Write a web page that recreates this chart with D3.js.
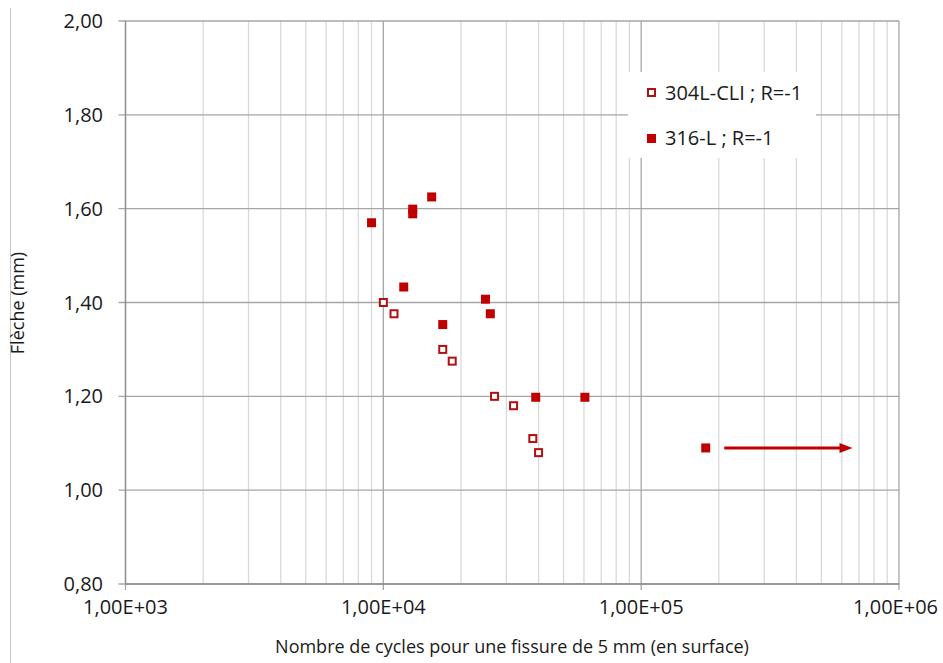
<!DOCTYPE html>
<html><head><meta charset="utf-8">
<script src="https://cdn.jsdelivr.net/npm/d3@7"></script>
<style>body{margin:0;background:#fff;}svg{display:block;font-family:"Open Sans",sans-serif;}</style>
</head><body>
<svg id="c" width="943" height="663"></svg>
<script>
const series304Cycles = [10000, 11000, 17000, 18500, 27000, 32000, 38000, 40000];
const series304Fleche = [1.40, 1.376, 1.30, 1.275, 1.20, 1.18, 1.11, 1.08];
const series316Cycles = [9000, 13000, 13000, 15400, 12000, 17000, 24900, 26000, 39000, 60500, 178000];
const series316Fleche = [1.57, 1.599, 1.589, 1.625, 1.433, 1.353, 1.407, 1.376, 1.198, 1.198, 1.09];
const arrowCycles = [210000, 660000];
const arrowFleche = [1.09, 1.09];
const yTicks = [0.80, 1.00, 1.20, 1.40, 1.60, 1.80, 2.00];
const xTicks = [1e3, 1e4, 1e5, 1e6];
const xTickLabels = ["1,00E+03", "1,00E+04", "1,00E+05", "1,00E+06"];
const legendLabels = ["304L-CLI ; R=-1", "316-L ; R=-1"];
const xTitle = "Nombre de cycles pour une fissure de 5 mm (en surface)";
const yTitle = "Flèche (mm)";

const red = "#c00000";
const txt = "#1a1a1a";
const svg = d3.select("#c");
const W = 943;
const L = 125.5, R = 899, T = 21, B = 584;
const x = d3.scaleLog().domain([1e3, 1e6]).range([L, R]);
const y = d3.scaleLinear().domain([0.8, 2.0]).range([B, T]);

// outer chart border (left edge visible)
svg.append("line").attr("x1", 10.5).attr("x2", 10.5).attr("y1", 8).attr("y2", 663)
  .attr("stroke", "#c8c8c8").attr("stroke-width", 1);

// minor vertical gridlines
const minor = [];
for (let d = 1e3; d < 1e6; d *= 10) for (let k = 2; k <= 9; k++) minor.push(d * k);
svg.append("g").selectAll("line").data(minor).join("line")
  .attr("x1", d => x(d)).attr("x2", d => x(d)).attr("y1", T).attr("y2", B)
  .attr("stroke", "#d9d9d9").attr("stroke-width", 1.3);
// major vertical gridlines
svg.append("g").selectAll("line").data(xTicks).join("line")
  .attr("x1", d => x(d)).attr("x2", d => x(d)).attr("y1", T).attr("y2", B + 6)
  .attr("stroke", "#a6a6a6").attr("stroke-width", 1.3);
// horizontal gridlines
svg.append("g").selectAll("line").data(yTicks).join("line")
  .attr("x1", L - 7).attr("x2", R).attr("y1", d => y(d)).attr("y2", d => y(d))
  .attr("stroke", "#a6a6a6").attr("stroke-width", 1.3);

// axes lines
svg.append("line").attr("x1", L).attr("x2", L).attr("y1", T).attr("y2", B)
  .attr("stroke", "#8c8c8c").attr("stroke-width", 1.3);
svg.append("line").attr("x1", L).attr("x2", R).attr("y1", B).attr("y2", B)
  .attr("stroke", "#8c8c8c").attr("stroke-width", 1.3);

// tick labels
svg.append("g").selectAll("text").data(yTicks).join("text")
  .attr("x", 103).attr("y", d => y(d)).attr("dy", "0.35em").attr("text-anchor", "end")
  .attr("font-size", 20).attr("fill", txt)
  .text(d => d3.format(".2f")(d).replace(".", ","));
const xl = svg.append("g").selectAll("text").data(xTicks).join("text")
  .attr("x", d => x(d)).attr("y", 614).attr("text-anchor", "middle")
  .attr("font-size", 20).attr("fill", txt)
  .text((d, i) => xTickLabels[i]);
// keep labels inside the picture
xl.each(function () {
  const bb = this.getBBox();
  if (bb.x + bb.width > W - 5) d3.select(this).attr("x", +d3.select(this).attr("x") - (bb.x + bb.width - (W - 5)));
});

// titles
svg.append("text").attr("x", 512).attr("y", 653).attr("text-anchor", "middle")
  .attr("font-size", 18).attr("fill", txt).text(xTitle);
svg.append("text").attr("transform", "translate(24,303) rotate(-90)").attr("text-anchor", "middle")
  .attr("font-size", 18).attr("fill", txt).text(yTitle);

// legend background
svg.append("rect").attr("x", 628).attr("y", 72).attr("width", 188).attr("height", 86).attr("fill", "#fff");

// data
const s = 9;
const d304 = series304Cycles.map((c, i) => ({c, f: series304Fleche[i]}));
const d316 = series316Cycles.map((c, i) => ({c, f: series316Fleche[i]}));
svg.append("g").selectAll("rect").data(d316).join("rect")
  .attr("x", d => x(d.c) - s / 2).attr("y", d => y(d.f) - s / 2)
  .attr("width", s).attr("height", s).attr("fill", red);
svg.append("g").selectAll("rect").data(d304).join("rect")
  .attr("x", d => x(d.c) - s / 2 + 1).attr("y", d => y(d.f) - s / 2 + 1)
  .attr("width", s - 2).attr("height", s - 2).attr("fill", "#fff")
  .attr("stroke", "#b01010").attr("stroke-width", 2);

// arrow
const ax1 = x(arrowCycles[0]), ax2 = x(arrowCycles[1]), ay = y(arrowFleche[0]);
svg.append("line").attr("x1", ax1).attr("x2", ax2 - 10).attr("y1", ay).attr("y2", ay)
  .attr("stroke", red).attr("stroke-width", 3);
svg.append("path").attr("d", `M${ax2},${ay} L${ax2 - 13},${ay - 5} L${ax2 - 13},${ay + 5} Z`).attr("fill", red);

// legend
const lg = svg.append("g");
lg.append("rect").attr("x", 648).attr("y", 89).attr("width", 7).attr("height", 7)
  .attr("fill", "#fff").attr("stroke", "#b01010").attr("stroke-width", 2);
lg.append("rect").attr("x", 647).attr("y", 134).attr("width", 9).attr("height", 9).attr("fill", red);
lg.selectAll("text").data(legendLabels).join("text")
  .attr("x", 665).attr("y", (d, i) => 93 + i * 45).attr("dy", "0.35em")
  .attr("font-size", 20).attr("fill", txt).text(d => d);
</script>
</body></html>
